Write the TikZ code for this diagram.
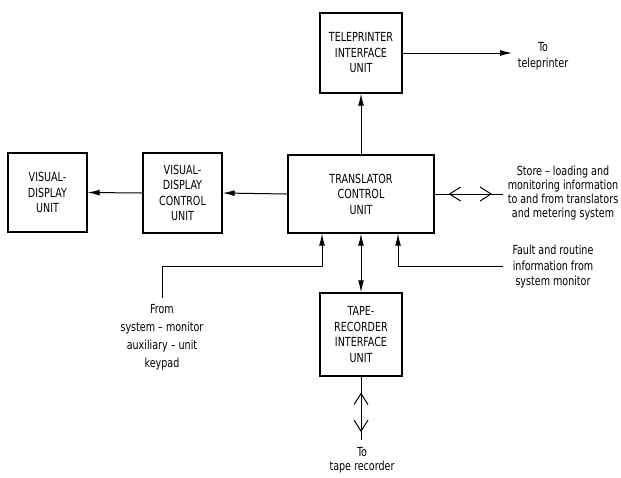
\documentclass[tikz,border=0pt]{standalone}
\usepackage{fontspec}
\newfontfamily\labelfont[FakeStretch=0.85]{DejaVu Sans Condensed}
\usetikzlibrary{arrows.meta,calc}
\tikzset{>={Latex[length=12pt,width=6pt]}, % filled tips
  block/.style={draw, line width=1.4pt, align=center, inner sep=0pt},
  link/.style={line width=1pt},
  barbs/.style={line width=1pt,
    {Straight Barb[length=11pt,width=14pt]}-{Straight Barb[length=11pt,width=14pt]}},
  note/.style={align=center, inner sep=0pt},
  system diagram/.style={
    x=1pt,
    y=-1pt,
    font={\labelfont\fontsize{12.5}{15.5}\selectfont},
  },
}

\begin{document}
\begin{tikzpicture}[system diagram]
    \useasboundingbox (0,0) rectangle (621,477);

    % units
    \node [block,minimum width=82pt,minimum height=80pt] (tpiu) at (361,53)
      {TELEPRINTER\\INTERFACE\\UNIT};
    \node [block,minimum width=79pt,minimum height=79pt] (vdu) at (47.5,192.5)
      {VISUAL-\\DISPLAY\\UNIT};
    \node [block,minimum width=79pt,minimum height=80pt] (vdcu) at (182.5,193)
      {VISUAL-\\DISPLAY\\CONTROL\\UNIT};
    \node [block,minimum width=146pt,minimum height=78pt] (tcu) at (361,194)
      {TRANSLATOR\\CONTROL\\UNIT};
    \node [block,minimum width=82pt,minimum height=83pt] (triu) at (361,334.5)
      {TAPE-\\RECORDER\\INTERFACE\\UNIT};

    % free ends
    \coordinate (tpout) at (512,53);
    \coordinate (store) at (503,194);
    \coordinate (kpin) at (162,298);
    \coordinate (fltin) at (503,266);
    \coordinate (tape) at (361,440);

    \node [note] (toTP) at (543,56) {To\\teleprinter};
    \node [note,font={\labelfont\fontsize{12.5}{14}\selectfont}] (storeTxt) at (563,193)
      {Store – loading and\\monitoring information\\to and from translators\\and metering system};
    \node [note] (faultTxt) at (553,267)
      {Fault and routine\\information from\\system monitor};
    \node [note,font={\labelfont\fontsize{12.5}{18}\selectfont}] (kpTxt) at (162,337)
      {From\\system – monitor\\auxiliary – unit\\keypad};
    \node [note,font={\labelfont\fontsize{12.5}{14}\selectfont}] (toTape) at (362,460)
      {To\\tape recorder};

    \draw [link,->] (tcu.north) -- (tpiu.south);
    \draw [link,->] (tpiu.east) -- (tpout);
    \draw [link,->] (tcu.west) -- (vdcu.east);
    \draw [link,->] (vdcu.west) -- (vdu.east);
    \draw [link,<->] (tcu.south) -- (triu.north);
    \draw [link,->] (kpin) -- ++(0,-32) -| ([xshift=-39pt]tcu.south);
    \draw [link,->] (fltin) -| ([xshift=37pt]tcu.south);

    \draw [link] (tcu.east) -- (store);
    \draw [barbs] ($(tcu.east)+(14,0)$) -- ($(store)+(-11,0)$);
    \draw [link] (triu.south) -- (tape);
    \draw [barbs] ($(triu.south)+(0,16)$) -- ($(tape)+(0,-8)$);
\end{tikzpicture}
\end{document}
